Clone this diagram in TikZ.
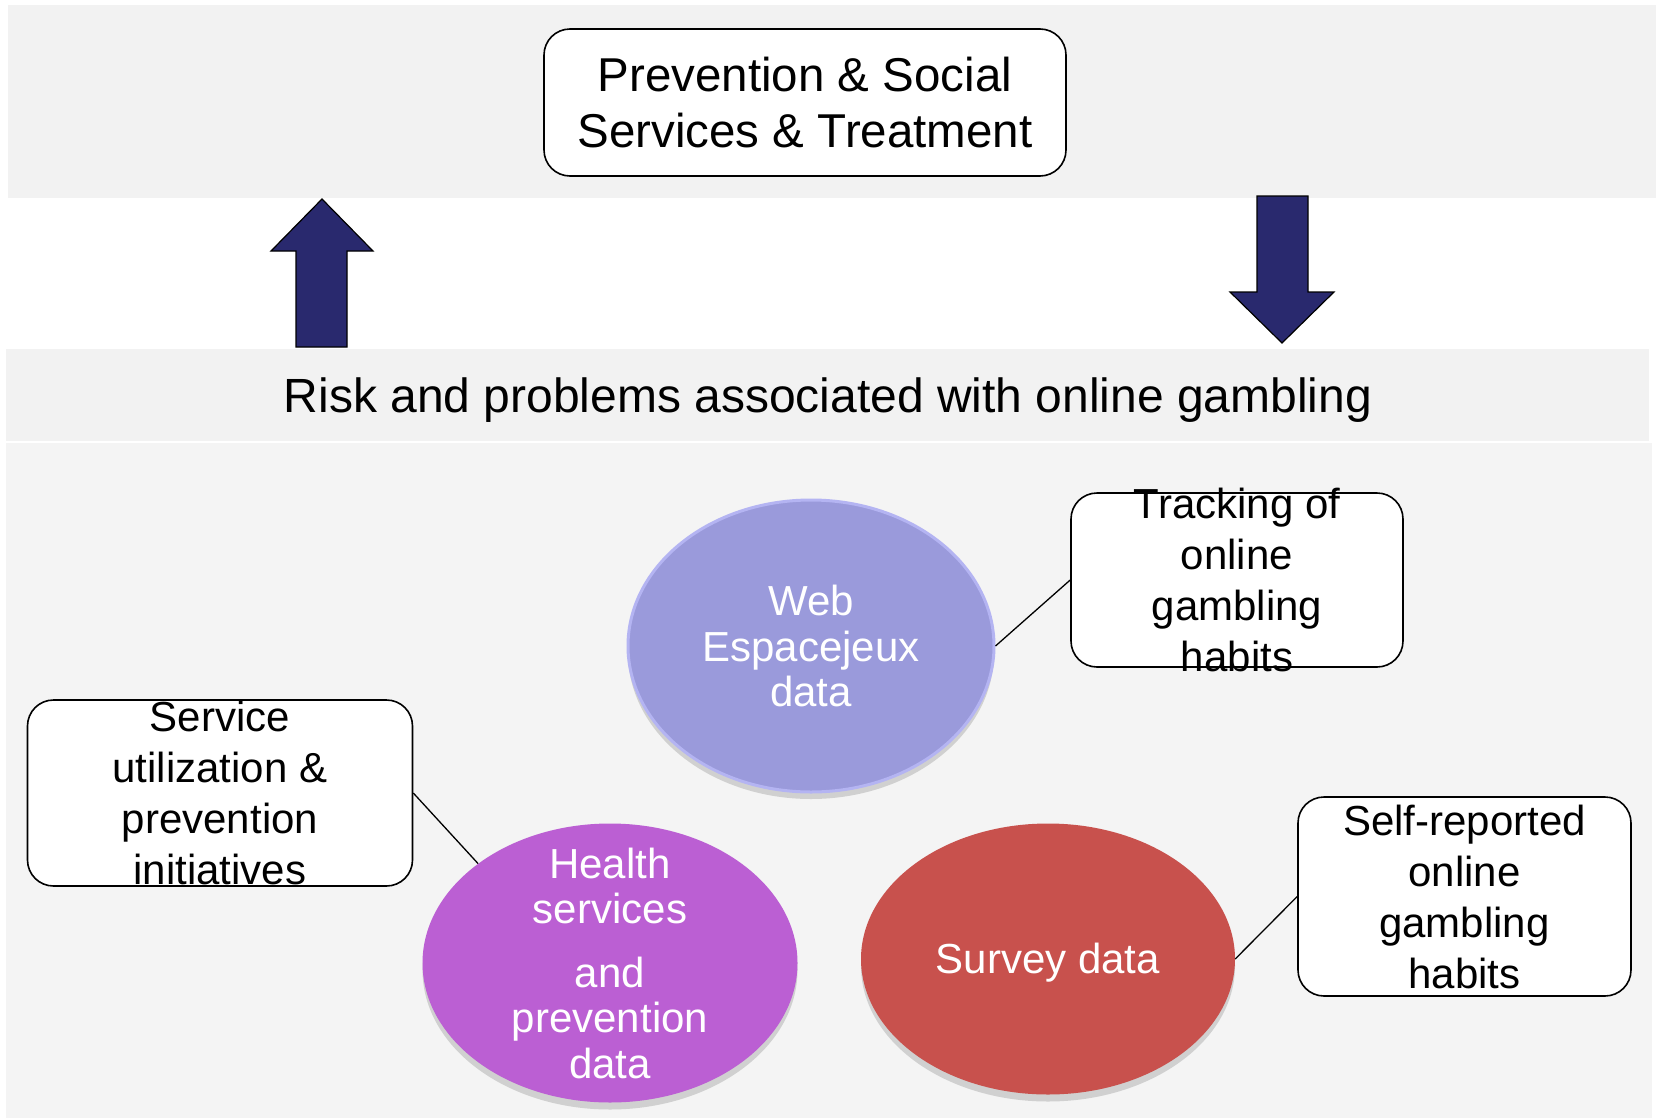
\documentclass[tikz,border=0pt]{standalone}
\usepackage{fontspec}
\setmainfont{Liberation Sans}
\usetikzlibrary{shapes.geometric, shadows}

\definecolor{bandgray}{HTML}{F2F2F2}
\definecolor{fieldgray}{HTML}{F4F4F4}
\definecolor{arrownavy}{HTML}{29296E}
\definecolor{webblue}{HTML}{9A9ADB}
\definecolor{webrim}{HTML}{B4B4F2}
\definecolor{healthpurple}{HTML}{BB5FD3}
\definecolor{surveyred}{HTML}{C8514D}

\begin{document}
\begin{tikzpicture}[x=1pt, y=1pt,
  every node/.append style={inner sep=0pt},
  infobox/.style={draw=black, line width=1.6pt, fill=white, rounded corners=26pt},
  boxtext/.style={align=center, font=\fontsize{42}{51}\selectfont},
  datablob/.style={ellipse,
    drop shadow={shadow xshift=0pt, shadow yshift=-7pt, opacity=0.25, fill=black!60}},
  blobtext/.style={text=white, align=center, font=\fontsize{42}{45.5}\selectfont},
  link/.style={draw=black, line width=1.3pt},
  bigarrow/.style={fill=arrownavy, draw=black, line width=1.2pt}]
\useasboundingbox (0,0) rectangle (1660,-1119);
\fill [bandgray] (8,-5) rectangle (1656,-198);
\fill [bandgray] (6,-349) rectangle (1649,-441);
\fill [fieldgray] (6,-443) rectangle (1652,-1118);
\node [font=\fontsize{48}{56}\selectfont] (risk) at (828,-400) {Risk and problems associated with online gambling};
\node [infobox, minimum width=522pt, minimum height=147pt, align=center, font=\fontsize{47.5}{56}\selectfont] (prev) at (805,-102.5) {Prevention \& Social\\Services \& Treatment};
\draw [bigarrow] (296,-347) -- (296,-251) -- (271,-251) -- (322,-199) -- (373,-251) -- (347,-251) -- (347,-347) -- cycle;
\draw [bigarrow] (1257,-196) -- (1257,-292) -- (1230,-292) -- (1282,-343) -- (1334,-292) -- (1308,-292) -- (1308,-196) -- cycle;
\node [datablob, fill=webblue, draw=webrim, line width=3pt, minimum width=366pt, minimum height=292pt] (web) at (811,-646) {};
\node [blobtext] at (web) {Web\\Espacejeux\\data};
\node [datablob, fill=healthpurple, minimum width=375pt, minimum height=279pt] (health) at (610,-963) {};
\node [blobtext] at (health) {Health\\services\\[18pt]and\\prevention\\data};
\node [datablob, fill=surveyred, minimum width=374pt, minimum height=271pt] (survey) at (1048,-959) {};
\node [blobtext] at ([yshift=-4pt]survey) {Survey data};
\node [infobox, minimum width=332pt, minimum height=174pt] (track) at (1237,-580) {};
\node [boxtext] at (track) {Tracking of\\online\\gambling\\habits};
\node [infobox, minimum width=385pt, minimum height=186pt] (serv) at (220,-793) {};
\node [boxtext] at (serv) {Service\\utilization \&\\prevention\\initiatives};
\node [infobox, minimum width=333pt, minimum height=199pt] (self) at (1464.5,-896.5) {};
\node [boxtext] at (self) {Self-reported\\online\\gambling\\habits};
\draw [link] (web.east) -- (track.west);
\draw [link] (serv.east) -- (health.143);
\draw [link] (survey.east) -- (self.west);
\end{tikzpicture}
\end{document}
